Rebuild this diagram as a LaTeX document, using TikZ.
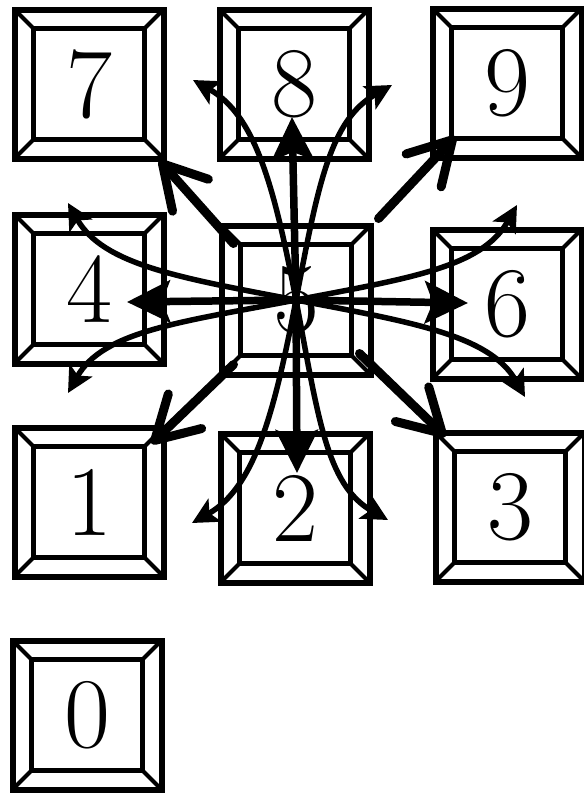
\documentclass[tikz,border=0pt]{standalone}
\usetikzlibrary{arrows.meta,calc}
\begin{document}
\begin{tikzpicture}[x=1pt,y=-1pt,
  key/.style={draw, line width=6pt, minimum width=149pt, minimum height=149pt,
    inner sep=0pt, font=\fontsize{100}{100}\selectfont,
    path picture={
      \coordinate (pnw) at (path picture bounding box.north west);
      \coordinate (pse) at (path picture bounding box.south east);
      \coordinate (pne) at (path picture bounding box.north east);
      \coordinate (psw) at (path picture bounding box.south west);
      \draw[line width=4.2pt] ([shift={(19pt,-19pt)}]pnw) rectangle ([shift={(-19pt,19pt)}]pse);
      \draw[line width=4pt] (pnw) -- ([shift={(19pt,-19pt)}]pnw)
        (pne) -- ([shift={(-19pt,-19pt)}]pne)
        (pse) -- ([shift={(-19pt,19pt)}]pse)
        (psw) -- ([shift={(19pt,19pt)}]psw);
    }},
  sarrow/.style={line width=7.5pt, -{Stealth[length=43pt,width=42pt,inset=8pt]}},
  carrow/.style={line width=5.5pt, -{Stealth[length=26pt,width=26pt,inset=6pt]}},
  darrow/.style={line width=9pt, line cap=round, -{Straight Barb[length=42pt,width=48pt,round]}},
]
\useasboundingbox (0,0) rectangle (584,796);

\node[key] (k7) at (89,84) {7};
\node[key] (k8) at (294,84) {8};
\node[key] (k9) at (507,83) {9};
\node[key] (k4) at (89,289) {4};
\node[key] (k5) at (296,300) {5};
\node[key] (k6) at (507,304) {6};
\node[key] (k1) at (89,502) {1};
\node[key] (k2) at (295,508) {2};
\node[key] (k3) at (510,507) {3};
\node[key] (k0) at (87,715) {0};

% free ends of the curved arrows
\coordinate (tUL) at (193,80);
\coordinate (tUR) at (392,85);
\coordinate (tDL) at (192,523);
\coordinate (tDR) at (388,520);
\coordinate (tLU) at (68,203);
\coordinate (tLD) at (68,393);
\coordinate (tRU) at (517,205);
\coordinate (tRD) at (525,397);

% straight arrows
\draw[sarrow] (k5.center) -- ($(k8.center)+(-2,33)$);
\draw[sarrow] (k5.center) -- ($(k2.center)+(2,-35)$);
\draw[sarrow] (k5.center) -- ($(k4.center)+(38,13)$);
\draw[sarrow] (k5.center) -- ($(k6.center)+(-39,-1)$);

% diagonal arrows
\draw[darrow] ($(k5.north west)+(15,21)$) -- ($(k7.south east)+(-7,-1)$);
\draw[darrow] ($(k5.north east)+(5,-4)$) -- ($(k9.south west)+(26,-24)$);
\draw[darrow] ($(k5.south west)+(15,-13)$) -- ($(k1.north east)+(-15,19)$);
\draw[darrow] ($(k5.south east)+(-14,-24)$) -- ($(k3.north west)+(13,7)$);

% curved arrows
\draw[carrow] (k5.center) .. controls +(-22,-115) and +(62,35) .. (tUL);
\draw[carrow] (k5.center) .. controls +(22,-115) and +(-62,35) .. (tUR);
\draw[carrow] (k5.center) .. controls +(-22,115) and +(62,-35) .. (tDL);
\draw[carrow] (k5.center) .. controls +(22,115) and +(-62,-35) .. (tDR);
\draw[carrow] (k5.center) .. controls +(-115,-22) and +(35,62) .. (tLU);
\draw[carrow] (k5.center) .. controls +(-115,22) and +(35,-62) .. (tLD);
\draw[carrow] (k5.center) .. controls +(115,-22) and +(-35,62) .. (tRU);
\draw[carrow] (k5.center) .. controls +(115,22) and +(-35,-62) .. (tRD);
\end{tikzpicture}
\end{document}
